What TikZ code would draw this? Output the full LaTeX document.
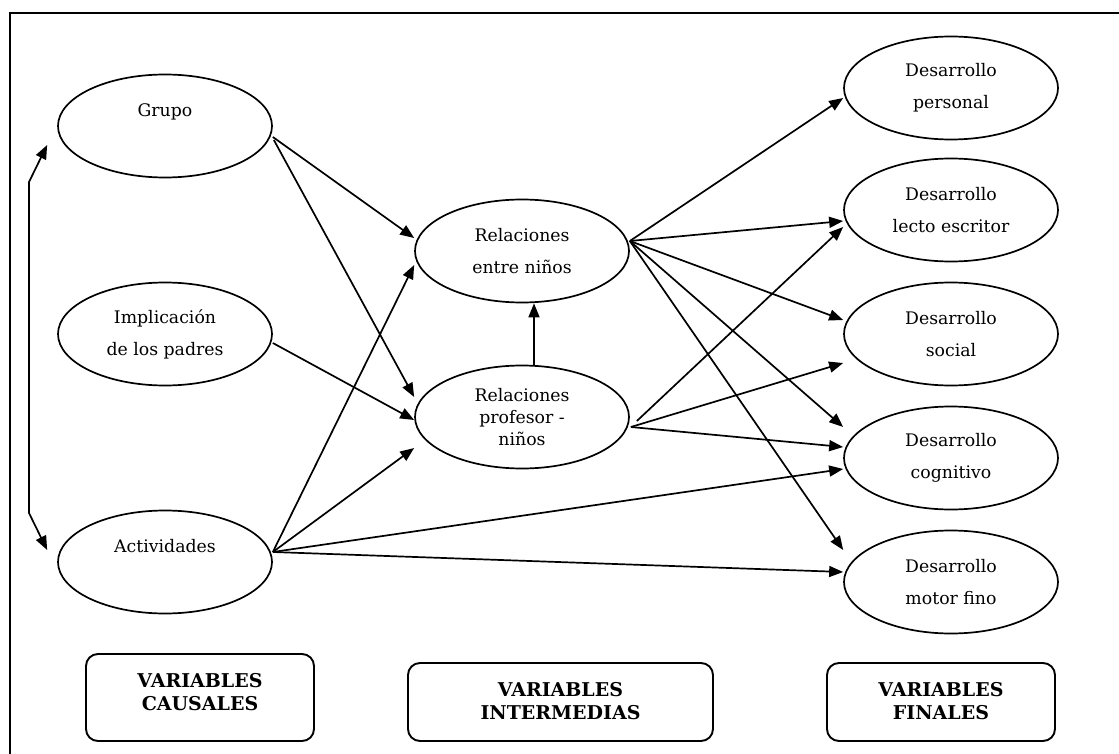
\documentclass[tikz,border=0pt]{standalone}
\usepackage{fontspec}
\setmainfont{DejaVu Serif}
\usetikzlibrary{shapes.geometric,arrows.meta,calc}
\begin{document}
\begin{tikzpicture}[x=1pt,y=-1pt,
  var/.style={ellipse,draw,line width=1.7pt,minimum width=214pt,minimum height=103pt,
    inner sep=0pt,align=center,font=\fontsize{17.3}{32}\selectfont},
  tag/.style={draw,line width=1.9pt,rounded corners=12pt,inner sep=0pt},
  tagtext/.style={align=center,font=\fontsize{19}{23}\selectfont\bfseries},
  arr/.style={line width=1.7pt,-{Triangle[length=14pt,width=11pt]}},
  biarr/.style={line width=1.7pt,{Triangle[length=14pt,width=11pt]}-{Triangle[length=14pt,width=11pt]}}]
\useasboundingbox (0,0) rectangle (1119,754);
% outer frame (runs off the page on the right and bottom)
\draw[line width=2.2pt] (10,13) rectangle (1135,775);

% causal variables
\node[var] (grupo)  at (165,126) {Grupo\\\mbox{}};
\node[var] (implic) at (165,334) {Implicación\\de los padres};
\node[var] (activ)  at (165,562) {Actividades\\\mbox{}};

% intermediate variables
\node[var] (entre) at (522,251) {Relaciones\\entre niños};
\node[var,font=\fontsize{17.3}{22}\selectfont] (prof) at (522,417) {Relaciones\\profesor -\\niños};

% final variables
\node[var] (pers)   at (951,88)  {Desarrollo\\personal};
\node[var] (lecto)  at (951,210) {Desarrollo\\lecto escritor};
\node[var] (social) at (951,334) {Desarrollo\\social};
\node[var] (cogn)   at (951,458) {Desarrollo\\cognitivo};
\node[var] (motor)  at (951,582) {Desarrollo\\motor fino};

% column headings
\node[tag,minimum width=228pt,minimum height=87pt,
  label={[tagtext,yshift=5.5pt]center:VARIABLES\\CAUSALES}] (hcaus) at (200,697.5) {};
\node[tag,minimum width=305pt,minimum height=78pt,
  label={[tagtext,yshift=1pt]center:VARIABLES\\INTERMEDIAS}] (hinter) at (560.5,702) {};
\node[tag,minimum width=228pt,minimum height=78pt,
  label={[tagtext,yshift=1pt]center:VARIABLES\\FINALES}] (hfin) at (941,702) {};

% correlation between Grupo and Actividades
\coordinate (c1) at (29,182);
\coordinate (c2) at (29,513);
\draw[biarr] ($(grupo.west)+(-10,19)$) -- (c1) -- (c2) -- ($(activ.west)+(-10,-12)$);

% causal -> intermediate
\draw[arr] ($(grupo.east)+(0,11)$) -- ($(entre.west)+(0,-13)$);
\draw[arr] ($(grupo.east)+(1,14)$) -- ($(prof.west)+(0,-20)$);
\draw[arr] ($(implic.east)+(0,9)$) -- ($(prof.west)+(0,3)$);
\draw[arr] ($(activ.east)+(0,-10)$) -- ($(entre.west)+(0,14)$);
\draw[arr] ($(activ.east)+(0,-10)$) -- ($(prof.west)+(0,31)$);

% intermediate -> intermediate
\draw[arr] ([xshift=12pt]prof.north) -- ([xshift=12pt]entre.south);

% causal -> final
\draw[arr] ($(activ.east)+(0,-10)$) -- ($(cogn.west)+(0,11)$);
\draw[arr] ($(activ.east)+(0,-10)$) -- ($(motor.west)+(0,-10)$);

% Relaciones entre niños -> final
\draw[arr] ($(entre.east)+(0,-10)$) -- ($(pers.west)+(0,10)$);
\draw[arr] ($(entre.east)+(0,-10)$) -- ($(lecto.west)+(0,11)$);
\draw[arr] ($(entre.east)+(0,-10)$) -- ($(social.west)+(0,-14)$);
\draw[arr] ($(entre.east)+(0,-10)$) -- ($(cogn.west)+(0,-31)$);
\draw[arr] ($(entre.east)+(0,-10)$) -- ($(motor.west)+(0,-32)$);

% Relaciones profesor - niños -> final
\draw[arr] ($(prof.east)+(7,4)$) -- ($(lecto.west)+(0,17)$);
\draw[arr] ($(prof.east)+(1,10)$) -- ($(social.west)+(0,29)$);
\draw[arr] ($(prof.east)+(1,10)$) -- ($(cogn.west)+(0,-11)$);
\end{tikzpicture}
\end{document}
